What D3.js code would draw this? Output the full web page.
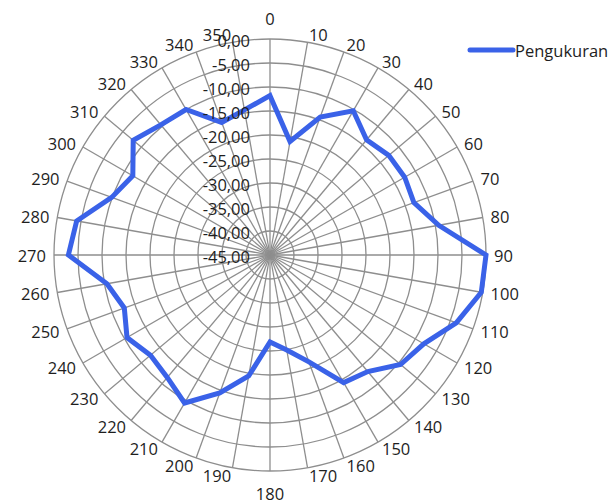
<!DOCTYPE html>
<html>
<head>
<meta charset="utf-8">
<script src="https://cdn.jsdelivr.net/npm/d3@7"></script>
<style>
  html, body { margin: 0; padding: 0; background: #fff; }
  svg { display: block; }
  text { font-family: "Open Sans", "Liberation Sans", sans-serif; fill: #1e1e1e; }
</style>
</head>
<body>
<svg id="chart" width="612" height="503"></svg>
<script>
// ---- data ----
const angles = [0,10,20,30,40,50,60,70,80,90,100,110,120,130,140,150,160,170,
                180,190,200,210,220,230,240,250,260,270,280,290,300,310,320,330,340,350];
const pengukuran = [-11.8,-21.0,-14.4,-10.3,-13.7,-12.7,-12.6,-13.1,-9.3,0.0,-0.3,-3.7,
                    -8.0,-9.5,-13.3,-14.3,-21.3,-24.9,-26.9,-19.4,-14.4,-9.4,-11.7,-12.5,
                    -10.6,-12.7,-10.5,-3.0,-4.1,-9.9,-12.0,-7.8,-9.6,-10.0,-15.6,-14.3];
const radialTicks = [-45,-40,-35,-30,-25,-20,-15,-10,-5,0];
const seriesName = "Pengukuran";

// ---- layout ----
const svg = d3.select("#chart");
const cx = 270, cy = 255, R = 216;
const r = d3.scaleLinear().domain([-45, 0]).range([0, R]);
const a = d3.scaleLinear().domain([0, 360]).range([0, 2 * Math.PI]);
const fmt = v => d3.format(".2f")(v).replace(".", ",").replace("−", "-");

const g = svg.append("g").attr("transform", `translate(${cx},${cy})`);
const gridColor = "#8e8e8e";

// rings
g.selectAll("circle.ring").data(radialTicks.filter(t => t > -45))
  .join("circle").attr("class", "ring")
  .attr("r", d => r(d)).attr("fill", "none")
  .attr("stroke", gridColor).attr("stroke-width", 1.3);

// spokes
g.selectAll("line.spoke").data(angles).join("line").attr("class", "spoke")
  .attr("x1", 0).attr("y1", 0)
  .attr("x2", d => R * Math.sin(a(d)))
  .attr("y2", d => -R * Math.cos(a(d)))
  .attr("stroke", gridColor).attr("stroke-width", 1.3);

// angle labels
const labR = 224;
g.selectAll("text.ang").data(angles).join("text").attr("class", "ang")
  .attr("x", d => labR * Math.sin(a(d)))
  .attr("y", d => {
    if (d === 0) return -237;
    if (d === 180) return 238;
    return -labR * Math.cos(a(d));
  })
  .attr("text-anchor", d => (d === 0 || d === 180) ? "middle" : (d < 180 ? "start" : "end"))
  .attr("dominant-baseline", "central")
  .attr("font-size", 16.5)
  .text(d => d);

// series line
const line = d3.lineRadial()
  .angle((d, i) => a(angles[i]))
  .radius(d => r(d))
  .curve(d3.curveLinearClosed);
g.append("path").datum(pengukuran)
  .attr("d", line).attr("fill", "none")
  .attr("stroke", "#3a62e8").attr("stroke-width", 5)
  .attr("stroke-linejoin", "miter");

// radial axis labels
g.selectAll("text.rad").data(radialTicks).join("text").attr("class", "rad")
  .attr("x", -20).attr("y", d => -r(d) + 1)
  .attr("text-anchor", "end").attr("dominant-baseline", "central")
  .attr("font-size", 16.5)
  .text(d => fmt(d));

// legend
const lg = svg.append("g").attr("transform", "translate(470,50)");
lg.append("line").attr("x1", 0).attr("x2", 43).attr("y1", 0).attr("y2", 0)
  .attr("stroke", "#3a62e8").attr("stroke-width", 5).attr("stroke-linecap", "round");
lg.append("text").attr("x", 45).attr("y", 0).attr("dominant-baseline", "central")
  .attr("font-size", 16.5).text(seriesName);
</script>
</body>
</html>
